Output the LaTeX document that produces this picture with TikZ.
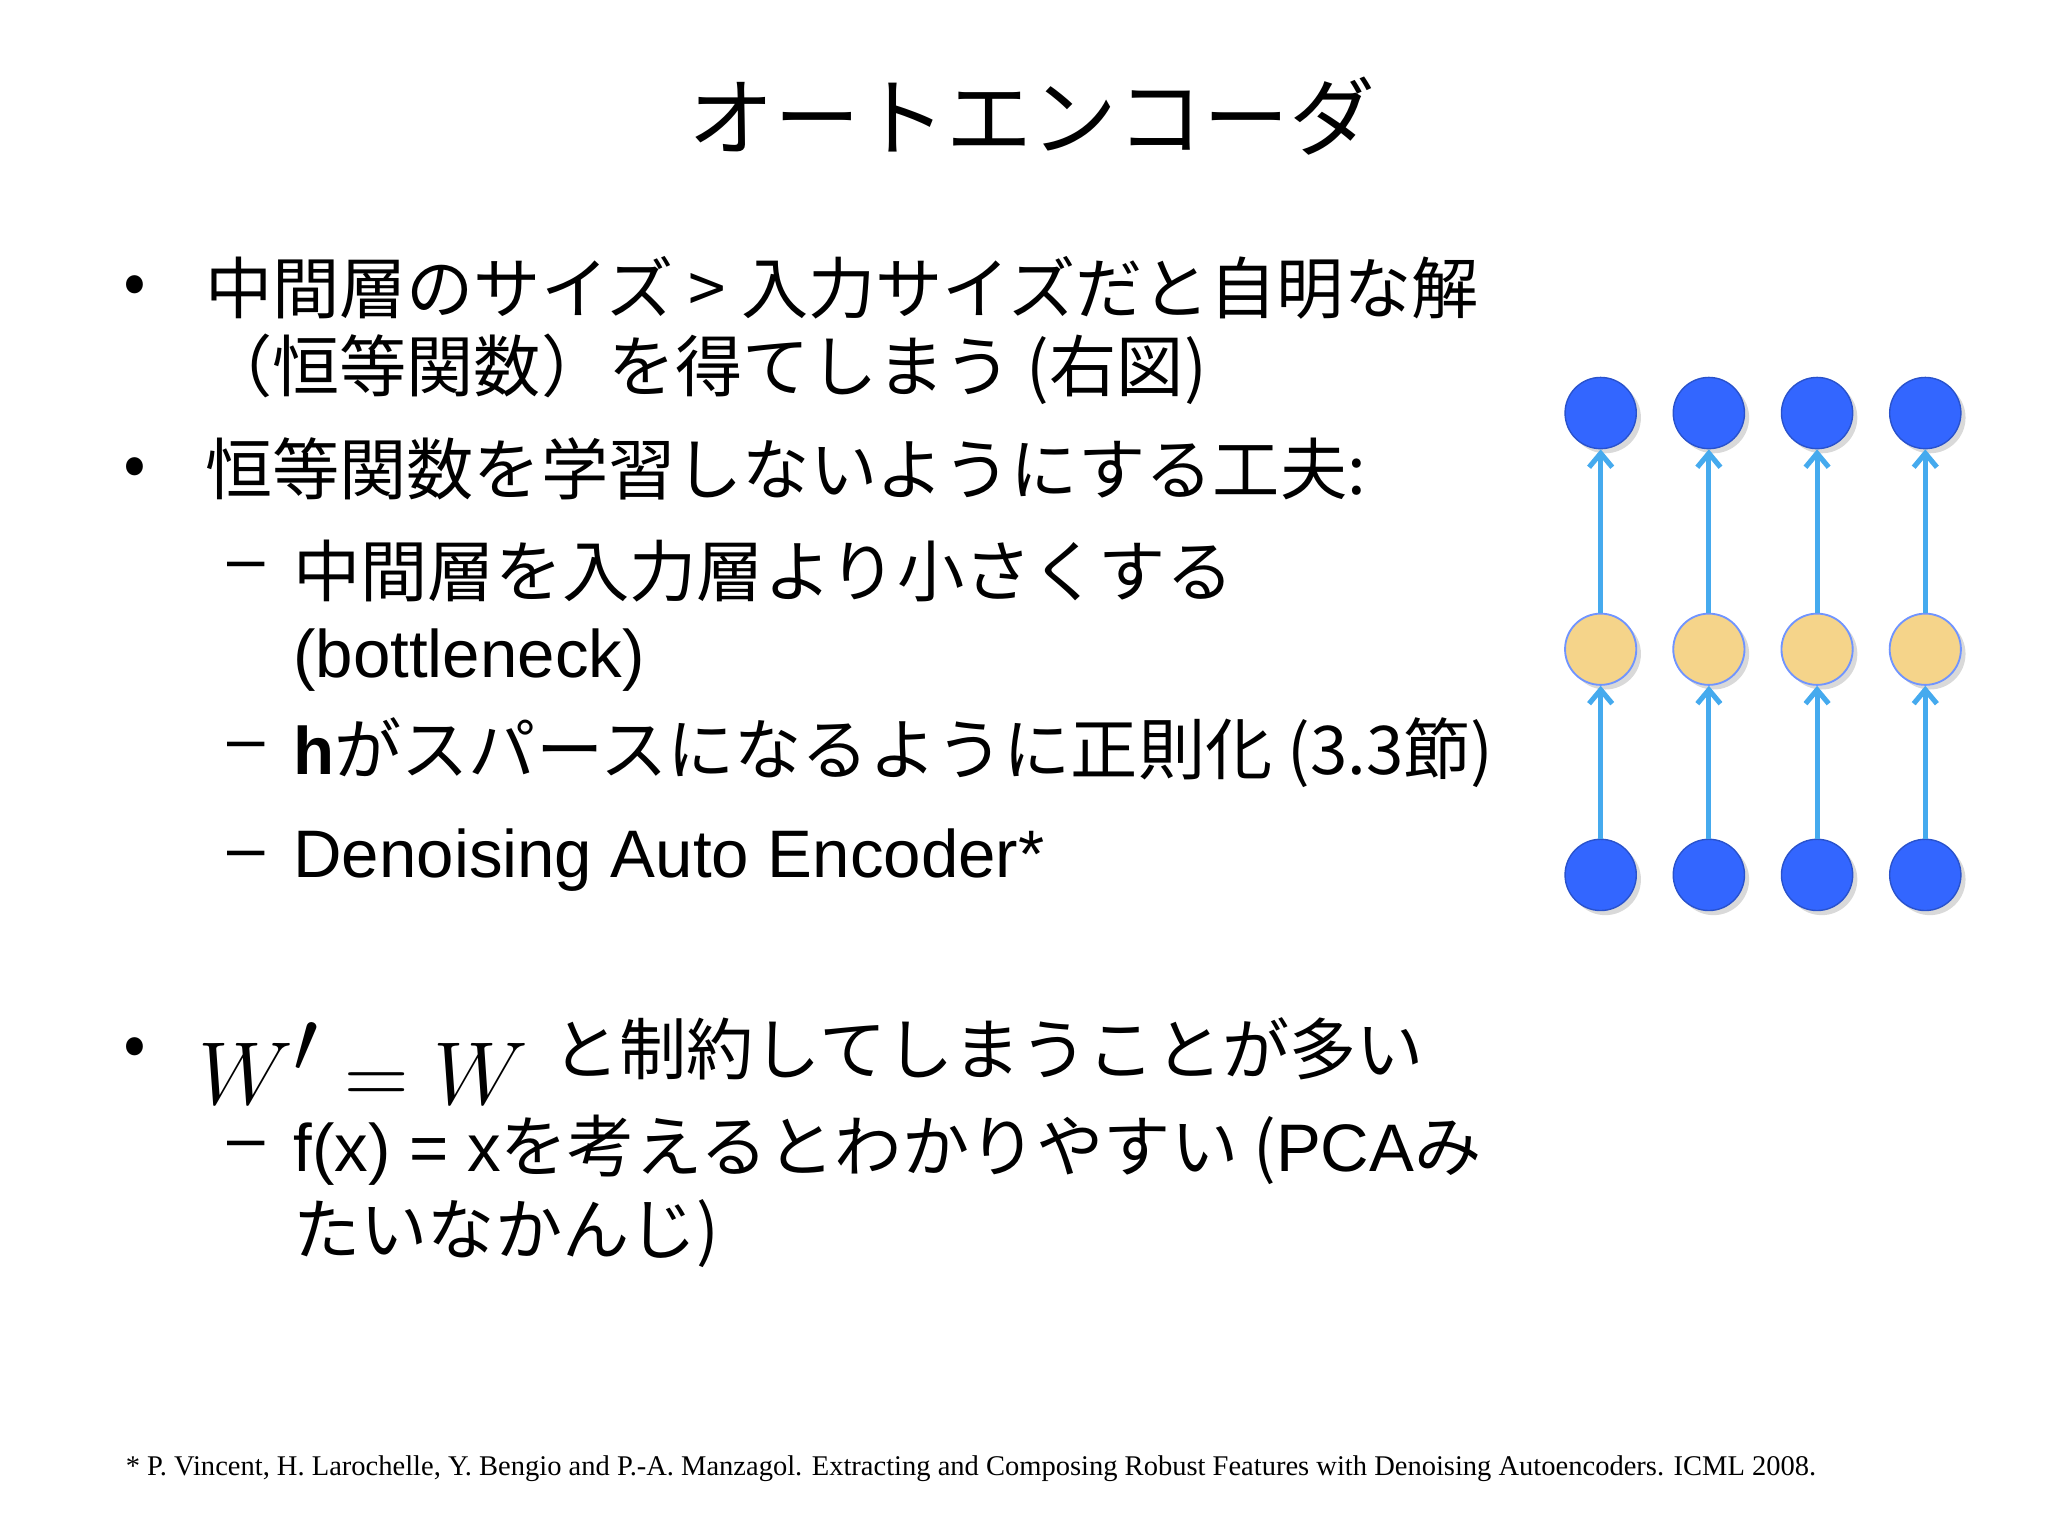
\documentclass[tikz,border=0pt]{standalone}
\usepackage{fontspec}
\setmainfont{Noto Sans CJK JP}
\newfontfamily\refserif{Liberation Serif}
\newfontfamily\lsans{Liberation Sans}
\usetikzlibrary{arrows.meta,shadows}
\definecolor{nodeblue}{HTML}{3366FF}
\definecolor{nodeyel}{HTML}{F5D48A}
\definecolor{arrblue}{HTML}{45AAEE}
\tikzset{
 txt/.style={anchor=west,inner sep=0pt,font=\fontsize{29}{34}\selectfont},
 bul/.style={anchor=center,inner sep=0pt,font=\fontsize{29}{34}\selectfont},
 conn/.style={draw=arrblue,line width=2.2pt,-{Straight Barb[length=6pt,width=10pt]}},
 nshadow/.style={drop shadow={shadow xshift=2pt,shadow yshift=-2pt,opacity=0.3}}
}
\begin{document}
\begin{tikzpicture}[x=0.02cm,y=-0.02cm]
\useasboundingbox (0,0) rectangle (1552,1164);
\node[anchor=center,font=\fontsize{37}{44}\selectfont] (title) at (782,88) {オートエンコーダ};
\node[bul] (b1) at (102,220) {•};
\node[txt] (l1) at (155,218) {中間層のサイズ > 入力サイズだと自明な解};
\node[txt] (l2) at (155,280) {（恒等関数）を得てしまう (右図)};
\node[bul] (b2) at (102,358) {•};
\node[txt] (l3) at (155,355) {恒等関数を学習しないようにする工夫:};
\node[txt,font=\lsans\fontsize{29}{34}\selectfont] (d1) at (172,433) {–};
\node[txt] (l4) at (222,433) {中間層を入力層より小さくする};
\node[txt,font=\lsans\fontsize{29}{34}\selectfont] (l5) at (222,500) {(bottleneck)};
\node[txt,font=\lsans\fontsize{29}{34}\selectfont] (d2) at (172,570) {–};
\node[txt] (l6) at (222,570) {{\lsans\bfseries h}がスパースになるように正則化 (3.3節)};
\node[txt,font=\lsans\fontsize{29}{34}\selectfont] (d3) at (172,652) {–};
\node[txt,font=\lsans\fontsize{29}{34}\selectfont] (l7) at (222,652) {Denoising Auto Encoder*};
\node[bul] (b3) at (102,797) {•};
\node[anchor=west,inner sep=0pt] (m) at (150,806) {\scalebox{1.55}{\fontsize{42}{48}\selectfont$W'=W$}};
\node[txt] (l8) at (418,795) {と制約してしまうことが多い};
\node[txt,font=\lsans\fontsize{29}{34}\selectfont] (d4) at (172,872) {–};
\node[txt] (l9) at (222,872) {{\lsans f(x) = x}を考えるとわかりやすい ({\lsans PCA}み};
\node[txt] (l10) at (222,935) {たいなかんじ)};
\node[anchor=west,inner sep=0pt,font=\refserif\fontsize{12.3}{15}\selectfont] (fn) at (95,1113) {* P. Vincent, H. Larochelle, Y. Bengio and P.-A. Manzagol. Extracting and Composing Robust Features with Denoising Autoencoders. ICML 2008.};
\foreach \i/\x in {1/1213,2/1295,3/1377,4/1459}{
 \node[circle,minimum size=1.08cm,inner sep=0pt,fill=nodeblue,draw=nodeblue!80!black,line width=0.6pt,nshadow] (t\i) at (\x,313) {};
 \node[circle,minimum size=1.08cm,inner sep=0pt,fill=nodeyel,draw=nodeblue!70,line width=0.8pt,nshadow] (h\i) at (\x,492) {};
 \node[circle,minimum size=1.08cm,inner sep=0pt,fill=nodeblue,draw=nodeblue!80!black,line width=0.6pt,nshadow] (i\i) at (\x,663) {};
 \draw[conn] (i\i) -- (h\i);
 \draw[conn] (h\i) -- (t\i);
}
\end{tikzpicture}
\end{document}
